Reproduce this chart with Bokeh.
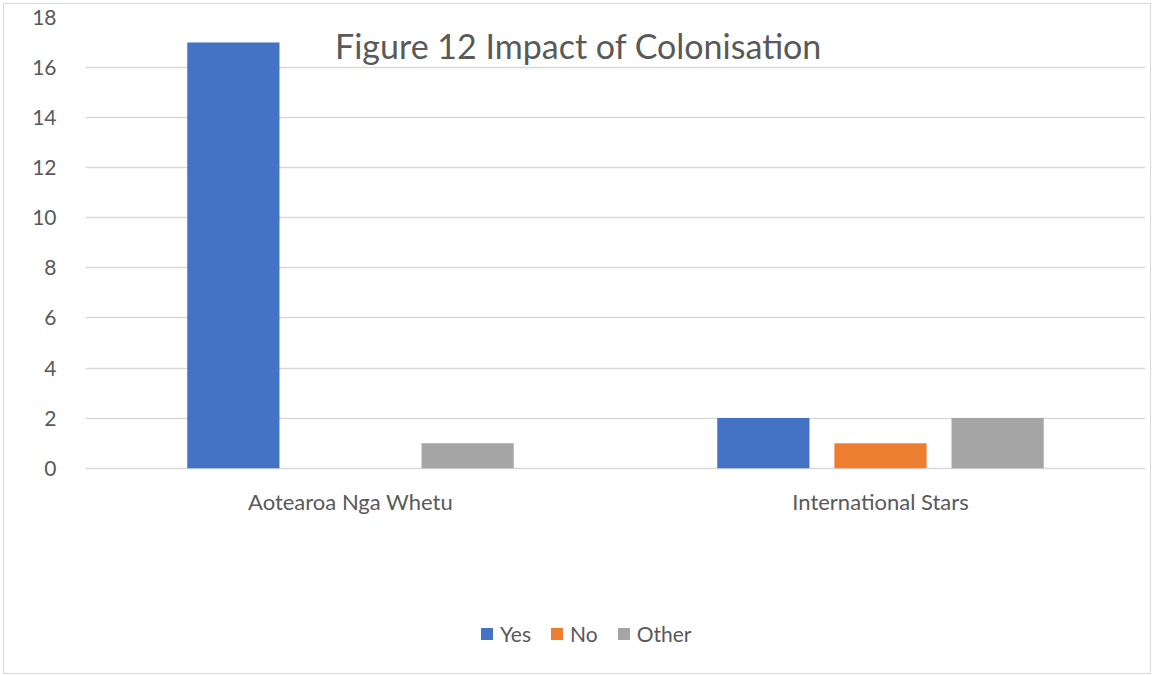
from bokeh.plotting import figure
from bokeh.models import ColumnDataSource, Range1d, FactorRange, FixedTicker, Legend, LegendItem, Label
from bokeh.core.properties import value
from bokeh.transform import dodge
from bokeh.embed import file_html
from bokeh.resources import INLINE

categories = ["Aotearoa Nga Whetu", "International Stars"]
yes_values = [17, 2]
no_values = [0, 1]
other_values = [1, 2]
y_ticks = [0, 2, 4, 6, 8, 10, 12, 14, 16, 18]
title_text = "Figure 12 Impact of Colonisation"

FONT = "Lato"
TXT = "#595959"

source = ColumnDataSource(dict(cat=categories, yes=yes_values, no=no_values, other=other_values,
                               lab_y=[-1.32] * len(categories)))

p = figure(width=1148, height=671, output_backend="svg", toolbar_location=None,
           x_range=FactorRange(*categories), y_range=Range1d(-8.08, 18),
           min_border_left=81, min_border_right=7, min_border_top=13, min_border_bottom=5)
p.outline_line_color = None
p.background_fill_color = "white"
p.border_fill_color = "white"

bw = 0.174
off = 0.221
r_yes = p.vbar(x=dodge("cat", -off, range=p.x_range), top="yes", width=bw, source=source,
               fill_color="#4472C4", line_color=None)
r_no = p.vbar(x=dodge("cat", 0, range=p.x_range), top="no", width=bw, source=source,
              fill_color="#ED7D31", line_color=None)
r_other = p.vbar(x=dodge("cat", off, range=p.x_range), top="other", width=bw, source=source,
                 fill_color="#A5A5A5", line_color=None)

# category labels under the zero line
p.text(x="cat", y="lab_y", text="cat", source=source, text_align="center",
       text_baseline="middle", text_font=value(FONT), text_font_size="22px", text_color=TXT)

p.yaxis.ticker = FixedTicker(ticks=y_ticks)
p.yaxis.axis_line_color = None
p.yaxis.major_tick_line_color = None
p.yaxis.minor_tick_line_color = None
p.yaxis.major_label_standoff = 23
p.yaxis.major_label_text_font = FONT
p.yaxis.major_label_text_font_size = "21px"
p.yaxis.major_label_text_color = TXT

p.xaxis.visible = False

p.xgrid.grid_line_color = None
p.ygrid.grid_line_color = "#D9D9D9"
p.ygrid.grid_line_width = 1.5

legend = Legend(items=[LegendItem(label="Yes", renderers=[r_yes]),
                       LegendItem(label="No", renderers=[r_no]),
                       LegendItem(label="Other", renderers=[r_other])],
                orientation="horizontal", location=(394, 24),
                glyph_width=15, glyph_height=15, label_standoff=6, spacing=18,
                padding=0, margin=0, border_line_color=None, background_fill_alpha=0,
                label_text_font=FONT, label_text_font_size="21px", label_text_color=TXT,
                label_height=20)
p.add_layout(legend, "center")

title = Label(x=493, y=625, x_units="screen", y_units="screen", text=title_text,
              text_align="center", text_baseline="middle", text_font=FONT,
              text_font_size="34px", text_color=TXT)
p.add_layout(title)

p.styles = {"border": "1px solid #D9D9D9", "margin": "3px 0 0 3px"}

open("out.html", "w").write(file_html(p, INLINE))
